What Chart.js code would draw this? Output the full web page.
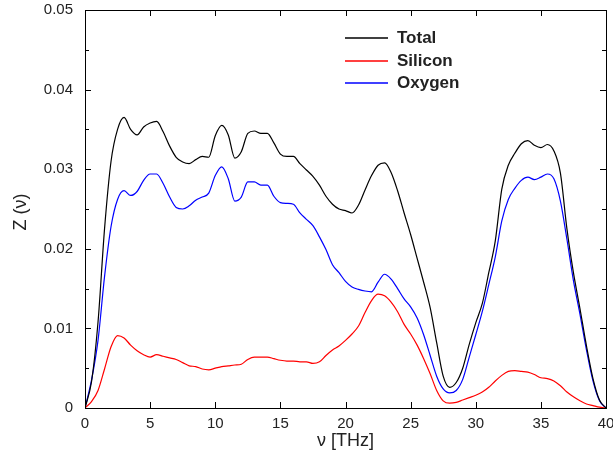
<!DOCTYPE html>
<html>
<head>
<meta charset="utf-8">
<script src="https://cdn.jsdelivr.net/npm/chart.js@4/dist/chart.umd.min.js"></script>
<style>
  html, body { margin: 0; padding: 0; background: #fff; }
  #wrap { width: 613px; height: 458px; }
</style>
</head>
<body>
<div id="wrap"><canvas id="vdos" width="613" height="458"></canvas></div>
<script>
// frequency grid in THz (0.5 step)
const freq = [];
for (let i = 0; i <= 80; i++) freq.push(i * 0.5);

const total = [0, 0.0033, 0.0108, 0.0225, 0.0310, 0.0350, 0.0365, 0.0350, 0.0343, 0.0353,
  0.0358, 0.0360, 0.0347, 0.0329, 0.0315, 0.0309, 0.0307, 0.0312, 0.0316, 0.0315,
  0.0342, 0.0355, 0.0343, 0.0314, 0.0322, 0.0345, 0.0348, 0.0345, 0.0345, 0.0333,
  0.0319, 0.0316, 0.0316, 0.0307, 0.0299, 0.0291, 0.0280, 0.0266, 0.0256, 0.0250,
  0.0248, 0.0245, 0.0255, 0.0274, 0.0292, 0.0305, 0.0308, 0.0296, 0.0273, 0.0245,
  0.0218, 0.0188, 0.0158, 0.0126, 0.0082, 0.0040, 0.0026, 0.0032, 0.0050, 0.0080,
  0.0107, 0.0131, 0.0170, 0.0210, 0.0275, 0.0305, 0.0320, 0.0332, 0.0336, 0.0330,
  0.0327, 0.0331, 0.0323, 0.0295, 0.0225, 0.0170, 0.0125, 0.0078, 0.0037, 0.0010, 0];

const silicon = [0, 0.0008, 0.0022, 0.0049, 0.0077, 0.0091, 0.0088, 0.0079, 0.0072, 0.0067,
  0.0064, 0.0067, 0.0065, 0.0063, 0.0061, 0.0057, 0.0053, 0.0052, 0.0049, 0.0048,
  0.0050, 0.0052, 0.0053, 0.0054, 0.0055, 0.0061, 0.0064, 0.0064, 0.0064, 0.0062,
  0.0060, 0.0059, 0.0059, 0.0058, 0.0058, 0.0056, 0.0058, 0.0066, 0.0073, 0.0078,
  0.0085, 0.0093, 0.0103, 0.0120, 0.0135, 0.0143, 0.0141, 0.0133, 0.0121, 0.0105,
  0.0093, 0.0079, 0.0062, 0.0043, 0.0022, 0.0009, 0.0006, 0.0007, 0.0010, 0.0013,
  0.0016, 0.0020, 0.0026, 0.0034, 0.0041, 0.0046, 0.0047, 0.0046, 0.0045, 0.0042,
  0.0038, 0.0037, 0.0034, 0.0028, 0.0020, 0.0014, 0.0009, 0.0005, 0.0003, 0.0001, 0];

const oxygen = [0, 0.0035, 0.0085, 0.0165, 0.0228, 0.0262, 0.0273, 0.0267, 0.0272, 0.0286,
  0.0294, 0.0294, 0.0282, 0.0265, 0.0252, 0.0250, 0.0254, 0.0261, 0.0265, 0.0270,
  0.0292, 0.0303, 0.0288, 0.0260, 0.0265, 0.0284, 0.0284, 0.0280, 0.0280, 0.0266,
  0.0258, 0.0257, 0.0256, 0.0245, 0.0237, 0.0229, 0.0215, 0.0199, 0.0180, 0.0170,
  0.0159, 0.0152, 0.0149, 0.0147, 0.0146, 0.0158, 0.0168, 0.0162, 0.0150, 0.0137,
  0.0127, 0.0113, 0.0092, 0.0066, 0.0040, 0.0024, 0.0019, 0.0022, 0.0036, 0.0064,
  0.0092, 0.0121, 0.0155, 0.0190, 0.0235, 0.0262, 0.0276, 0.0286, 0.0290, 0.0287,
  0.0290, 0.0294, 0.0288, 0.0260, 0.0212, 0.0160, 0.0118, 0.0073, 0.0034, 0.0009, 0];

const seriesNames = ['Total', 'Silicon', 'Oxygen'];
const seriesColors = ['#000000', '#ff0000', '#0000ff'];
const xTitle = 'ν [THz]';
const yTitle = 'Z (ν)';

const FONT = '"Liberation Sans", Arial, sans-serif';

function toPoints(arr) {
  return arr.map((v, i) => ({ x: freq[i], y: v }));
}

// frame, inward ticks, axis titles and the legend
const framePlugin = {
  id: 'frame',
  afterDraw(chart) {
    const ctx = chart.ctx;
    const a = chart.chartArea;
    const xs = chart.scales.x, ys = chart.scales.y;
    ctx.save();
    ctx.strokeStyle = '#000';
    ctx.lineWidth = 1;
    ctx.strokeRect(Math.round(a.left) + 0.5, Math.round(a.top) + 0.5,
      Math.round(a.right - a.left), Math.round(a.bottom - a.top));

    ctx.beginPath();
    xs.ticks.forEach(t => {
      const px = Math.round(xs.getPixelForValue(t.value)) + 0.5;
      ctx.moveTo(px, a.bottom); ctx.lineTo(px, a.bottom - 6);
      ctx.moveTo(px, a.top); ctx.lineTo(px, a.top + 6);
    });
    ys.ticks.forEach(t => {
      const py = Math.round(ys.getPixelForValue(t.value)) + 0.5;
      const major = Math.round(t.value * 1000) % 10 === 0;
      const len = major ? 6 : 4;
      ctx.moveTo(a.left, py); ctx.lineTo(a.left + len, py);
      ctx.moveTo(a.right, py); ctx.lineTo(a.right - len, py);
    });
    ctx.stroke();

    ctx.fillStyle = '#222';
    ctx.font = '18px ' + FONT;
    ctx.textAlign = 'center';
    ctx.textBaseline = 'middle';
    ctx.fillText(xTitle, (a.left + a.right) / 2, 441);
    ctx.save();
    ctx.translate(21, 212);
    ctx.rotate(-Math.PI / 2);
    ctx.fillText(yTitle, 0, 0);
    ctx.restore();

    // legend
    ctx.font = 'bold 17px ' + FONT;
    ctx.textAlign = 'left';
    chart.data.datasets.forEach((ds, i) => {
      const y = [38, 61, 83][i];
      ctx.beginPath();
      ctx.strokeStyle = seriesColors[i];
      ctx.lineWidth = 1.4;
      ctx.moveTo(345, y);
      ctx.lineTo(388, y);
      ctx.stroke();
      ctx.fillStyle = '#222';
      ctx.fillText(ds.label, 397, y);
    });
    ctx.restore();
  }
};

new Chart(document.getElementById('vdos'), {
  type: 'line',
  data: {
    datasets: [
      { label: seriesNames[0], data: toPoints(total), borderColor: seriesColors[0] },
      { label: seriesNames[1], data: toPoints(silicon), borderColor: seriesColors[1] },
      { label: seriesNames[2], data: toPoints(oxygen), borderColor: seriesColors[2] }
    ]
  },
  options: {
    responsive: false,
    animation: false,
    layout: { padding: { left: 0, right: 7, top: 10, bottom: 0 } },
    elements: {
      point: { radius: 0 },
      line: { borderWidth: 1.2, tension: 0.4, cubicInterpolationMode: 'monotone', fill: false }
    },
    plugins: { legend: { display: false }, tooltip: { enabled: false } },
    scales: {
      x: {
        type: 'linear', min: 0, max: 40,
        grid: { display: false, drawTicks: false },
        border: { display: false },
        ticks: {
          stepSize: 5, autoSkip: false, maxRotation: 0, padding: 7,
          color: '#222', font: { family: FONT, size: 15 }
        },
        afterFit(scale) {
          scale.height = 50;
          scale.paddingLeft = 0;
          scale.paddingRight = 0;
        }
      },
      y: {
        type: 'linear', min: 0, max: 0.05,
        grid: { display: false, drawTicks: false },
        border: { display: false },
        ticks: {
          stepSize: 0.005, autoSkip: false, padding: 12,
          color: '#222', font: { family: FONT, size: 15 },
          callback: v => (Math.round(v * 1000) % 10 === 0 ? String(parseFloat(v.toFixed(3))) : '')
        },
        afterFit(scale) {
          scale.width = 85;
          scale.paddingTop = 0;
          scale.paddingBottom = 0;
        }
      }
    }
  },
  plugins: [framePlugin]
});
</script>
</body>
</html>
